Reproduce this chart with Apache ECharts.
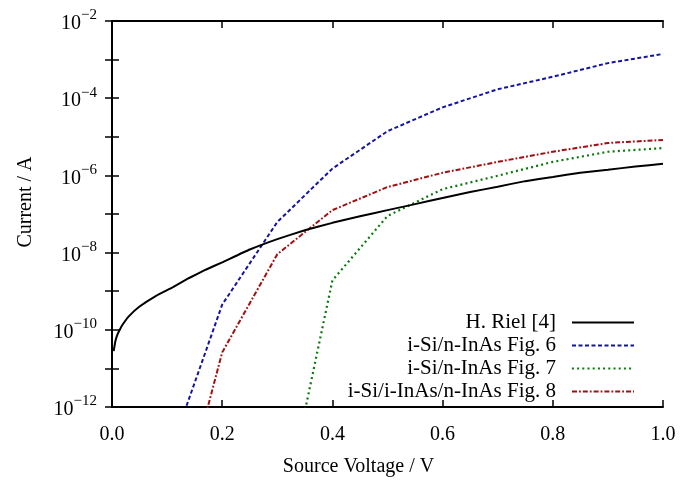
<!DOCTYPE html>
<html>
<head>
<meta charset="utf-8">
<script src="https://cdn.jsdelivr.net/npm/echarts@6/dist/echarts.min.js"></script>
<style>
html,body{margin:0;padding:0;background:#fff;}
#chart{width:699px;height:482px;}
</style>
</head>
<body>
<div id="chart"></div>
<script>
// ---- data (Source Voltage in V, Current in A) ----
const seriesNames = ['H. Riel [4]', 'i-Si/n-InAs Fig. 6', 'i-Si/n-InAs Fig. 7', 'i-Si/i-InAs/n-InAs Fig. 8'];

const rielV = [0.003, 0.006, 0.01, 0.015, 0.02, 0.03, 0.05, 0.08, 0.11, 0.14, 0.17, 0.2, 0.25, 0.3, 0.35, 0.4, 0.45, 0.5, 0.55, 0.6, 0.65, 0.7, 0.75, 0.8, 0.85, 0.9, 0.95, 1.0];
const rielI = [2.8e-11, 5.0e-11, 7.6e-11, 1.07e-10, 1.41e-10, 2.2e-10, 4.0e-10, 7.6e-10, 1.26e-9, 2.2e-9, 3.6e-9, 5.6e-9, 1.2e-8, 2.24e-8, 3.8e-8, 5.9e-8, 8.7e-8, 1.26e-7, 1.8e-7, 2.6e-7, 3.7e-7, 5.1e-7, 7.1e-7, 9.1e-7, 1.17e-6, 1.4e-6, 1.7e-6, 2.0e-6];

const fig6V = [0.1, 0.2, 0.3, 0.4, 0.5, 0.6, 0.7, 0.8, 0.9, 1.0];
const fig6I = [4.0e-14, 4.5e-10, 6.2e-8, 1.5e-6, 1.4e-5, 5.8e-5, 1.7e-4, 3.6e-4, 8.1e-4, 1.4e-3];

const fig7V = [0.3, 0.4, 0.5, 0.6, 0.7, 0.8, 0.9, 1.0];
const fig7I = [3.2e-16, 1.9e-9, 8.9e-8, 4.4e-7, 9.8e-7, 2.24e-6, 4.1e-6, 5.1e-6];

const fig8V = [0.1, 0.2, 0.3, 0.4, 0.5, 0.6, 0.7, 0.8, 0.9, 1.0];
const fig8I = [1.0e-16, 2.6e-11, 9.1e-9, 1.26e-7, 5.0e-7, 1.17e-6, 2.24e-6, 4.1e-6, 6.9e-6, 8.3e-6];

const xTickLabels = ['0.0', '0.2', '0.4', '0.6', '0.8', '1.0'];
const yTickExponents = [-12, -10, -8, -6, -4, -2];

// ---- helpers ----
function pairs(xs, ys) { return xs.map((x, i) => [x, ys[i]]); }
const FONT = 'Liberation Serif';
const colors = ['#000000', '#1414a0', '#0a780a', '#a01010'];
const dashes = ['solid', [4, 2.5], [2, 3.2], [5, 2, 1.8, 2]];
const widths = [2, 2, 2.2, 2];
const dataSets = [pairs(rielV, rielI), pairs(fig6V, fig6I), pairs(fig7V, fig7I), pairs(fig8V, fig8I)];

const chart = echarts.init(document.getElementById('chart'), null, {renderer: 'canvas'});

const axisLine = {show: true, lineStyle: {color: '#000', width: 2}};
const axisTick = {show: true, inside: true, length: 7, lineStyle: {color: '#000', width: 1.5}};

const series = seriesNames.map((name, i) => ({
  name: name,
  type: 'line',
  data: dataSets[i],
  showSymbol: false,
  symbol: 'none',
  smooth: i === 0 ? 0.1 : false,
  clip: true,
  animation: false,
  lineStyle: {color: colors[i], width: widths[i], type: dashes[i], cap: 'butt'},
  itemStyle: {color: colors[i]},
  z: 10 - i
}));

const legendRowsTop = [312, 335, 358, 381];
const legends = seriesNames.map((name, i) => ({
  data: [name],
  orient: 'vertical',
  align: 'right',
  right: 64,
  top: legendRowsTop[i],
  padding: 0,
  itemWidth: 62,
  itemHeight: 14,
  selectedMode: false,
  itemStyle: {opacity: 0},
  lineStyle: {color: colors[i], width: widths[i], type: dashes[i], cap: 'butt'},
  textStyle: {fontFamily: FONT, fontSize: 21, color: '#000', lineHeight: 20, padding: [0, 11, 0, 0]}
}));

chart.setOption({
  animation: false,
  backgroundColor: '#fff',
  grid: {left: 112, right: 36, top: 21, bottom: 72, containLabel: false},
  legend: legends,
  xAxis: [{
    type: 'value', min: 0, max: 1, interval: 0.2,
    position: 'bottom',
    name: 'Source Voltage / V', nameLocation: 'middle', nameGap: 50,
    nameTextStyle: {fontFamily: FONT, fontSize: 20, color: '#000', padding: [0, 58, 0, 0]},
    axisLine: axisLine, axisTick: axisTick, splitLine: {show: false},
    axisLabel: {
      margin: 18, fontFamily: FONT, fontSize: 20, color: '#000',
      formatter: function (v) { const k = Math.round(v / 0.2); return xTickLabels[k] !== undefined ? xTickLabels[k] : ''; }
    }
  }, {
    type: 'value', min: 0, max: 1, interval: 0.2, position: 'top',
    axisLine: axisLine, axisTick: axisTick, axisLabel: {show: false}, splitLine: {show: false}
  }],
  yAxis: [{
    type: 'log', logBase: 10, min: 1e-12, max: 1e-2, interval: 1,
    position: 'left',
    name: 'Current / A', nameLocation: 'middle', nameGap: 76, nameRotate: 90,
    nameTextStyle: {fontFamily: FONT, fontSize: 20, color: '#000', padding: [0, 0, 0, 24]},
    axisLine: axisLine, axisTick: axisTick, splitLine: {show: false},
    axisLabel: {
      margin: 15, fontFamily: FONT, fontSize: 20, color: '#000',
      formatter: function (v) {
        const e = Math.round(Math.log10(v));
        if (yTickExponents.indexOf(e) < 0) return '';
        return '{b|10}{s|\u2212' + Math.abs(e) + '}';
      },
      rich: {
        b: {fontFamily: FONT, fontSize: 20, color: '#000', lineHeight: 26, verticalAlign: 'bottom'},
        s: {fontFamily: FONT, fontSize: 15, color: '#000', lineHeight: 26, verticalAlign: 'top'}
      }
    }
  }, {
    type: 'log', logBase: 10, min: 1e-12, max: 1e-2, interval: 1, position: 'right',
    axisLine: axisLine, axisTick: axisTick, axisLabel: {show: false}, splitLine: {show: false}
  }],
  series: series
});
</script>
</body>
</html>
